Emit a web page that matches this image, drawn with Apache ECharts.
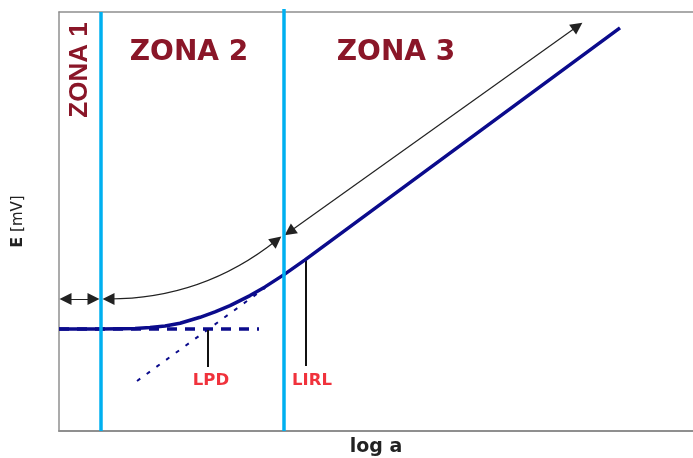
<!DOCTYPE html>
<html><head><meta charset="utf-8">
<script src="https://cdn.jsdelivr.net/npm/echarts@6/dist/echarts.min.js"></script>
<style>html,body{margin:0;padding:0;background:#fff}#c{width:693px;height:458px}</style>
</head><body><div id="c"></div>
<script>
// Schematic units: x = log a (arbitrary), y = E (arbitrary)
const curveX = [0, 41, 61, 76, 91, 106, 121, 141, 156, 171, 191, 206, 225, 246, 561];
const curveY = [102, 102, 102.2, 102.6, 103.4, 105, 107.7, 113.7, 119.1, 125.4, 135.4, 144.1, 156.4, 171.1, 403.2];
const plateauX = [0, 200];
const plateauY = [102, 102];
const slopeX = [78, 206];
const slopeY = [50, 143];
const zoneBoundX = [42, 225];
const zoneBoundTop = [419, 422];
const lpdX = [149, 149];
const lpdY = [101, 64];
const lirlX = [247, 247];
const lirlY = [171, 65];
const arrowX1 = [6.5, 49.5, 230.5];
const arrowY1 = [132, 132, 199.2];
const arrowX2 = [34.5, 217.6, 518.5];
const arrowY2 = [132, 190.7, 404.8];
const arrowBend = [0, -0.175, 0];
const labelText = ['ZONA 1', 'ZONA 2', 'ZONA 3', 'LPD', 'LIRL'];
const labelX = [21, 130, 337, 152, 253];
const labelY = [361, 378, 378, 50, 50];

const NAVY = '#0b0b8c', CYAN = '#00b0f0', ZONE = '#8a1628', RED = '#f0323c', AX = '#8f8f8f';

const pts = (xs, ys) => xs.map((x, i) => [x, ys[i]]);

const labelStyles = [
  {rotate: 90, fontFamily: 'Liberation Sans', fontSize: 26, color: ZONE},
  {fontFamily: 'DejaVu Sans', fontSize: 28, color: ZONE},
  {fontFamily: 'DejaVu Sans', fontSize: 28, color: ZONE},
  {fontFamily: 'DejaVu Sans', fontSize: 16.5, color: RED},
  {fontFamily: 'DejaVu Sans', fontSize: 16.5, color: RED}
];

const chart = echarts.init(document.getElementById('c'));
chart.setOption({
  animation: false,
  backgroundColor: '#fff',
  grid: {left: 59, right: 0, top: 12, bottom: 27, containLabel: false, outerBoundsMode: 'none'},
  xAxis: [{
    type: 'value', min: 0, max: 634,
    axisLine: {show: true, lineStyle: {color: AX, width: 2}},
    axisTick: {show: false}, axisLabel: {show: false}, splitLine: {show: false},
    name: 'log a', nameLocation: 'middle', nameGap: 7,
    nameTextStyle: {fontFamily: 'DejaVu Sans', fontWeight: 'bold', fontSize: 19, color: '#222'}
  }, {
    type: 'value', min: 0, max: 634, position: 'top',
    axisLine: {show: true, lineStyle: {color: AX, width: 1.5}},
    axisTick: {show: false}, axisLabel: {show: false}, splitLine: {show: false}
  }],
  yAxis: {
    type: 'value', min: 0, max: 419,
    axisLine: {show: true, lineStyle: {color: AX, width: 1.5}},
    axisTick: {show: false}, axisLabel: {show: false}, splitLine: {show: false},
    name: '{b|E} [mV]', nameLocation: 'middle', nameGap: 33,
    nameTextStyle: {fontFamily: 'DejaVu Sans', fontSize: 15, color: '#222',
      rich: {b: {fontFamily: 'DejaVu Sans', fontSize: 16, fontWeight: 'bold', color: '#222'}}}
  },
  series: [
    {type: 'line', data: pts(plateauX, plateauY), symbol: 'none',
     lineStyle: {color: NAVY, width: 3.5, type: [10, 8]}, z: 3},
    {type: 'line', data: pts(slopeX, slopeY), symbol: 'none',
     lineStyle: {color: NAVY, width: 2, type: [4, 8]}, z: 3},
    {type: 'line', data: pts(curveX, curveY), symbol: 'none', smooth: false,
     lineStyle: {color: NAVY, width: 3.5, join: 'round'}, z: 4},
    {type: 'line', data: pts(lpdX, lpdY), symbol: 'none', lineStyle: {color: '#111', width: 2}, z: 3},
    {type: 'line', data: pts(lirlX, lirlY), symbol: 'none', lineStyle: {color: '#111', width: 2}, z: 3},
    {type: 'lines', coordinateSystem: 'cartesian2d', z: 5,
     symbol: ['triangle', 'triangle'], symbolSize: 12,
     lineStyle: {color: '#222', width: 1.2, opacity: 1},
     data: arrowX1.map((x, i) => ({coords: [[x, arrowY1[i]], [arrowX2[i], arrowY2[i]]],
       lineStyle: {curveness: arrowBend[i]}}))},
    ...zoneBoundX.map((x, i) => ({type: 'line', data: [[x, 0], [x, zoneBoundTop[i]]], symbol: 'none',
      clip: false, lineStyle: {color: CYAN, width: 3.5}, z: 6})),
    {type: 'scatter', symbolSize: 0, itemStyle: {color: 'rgba(0,0,0,0)', opacity: 1}, z: 7,
     data: labelText.map((t, i) => ({value: [labelX[i], labelY[i]], name: t,
       label: Object.assign({show: true, position: 'inside', formatter: t, fontWeight: 'bold',
         align: 'center', verticalAlign: 'middle', opacity: 1}, labelStyles[i])}))}
  ]
});
</script></body></html>
